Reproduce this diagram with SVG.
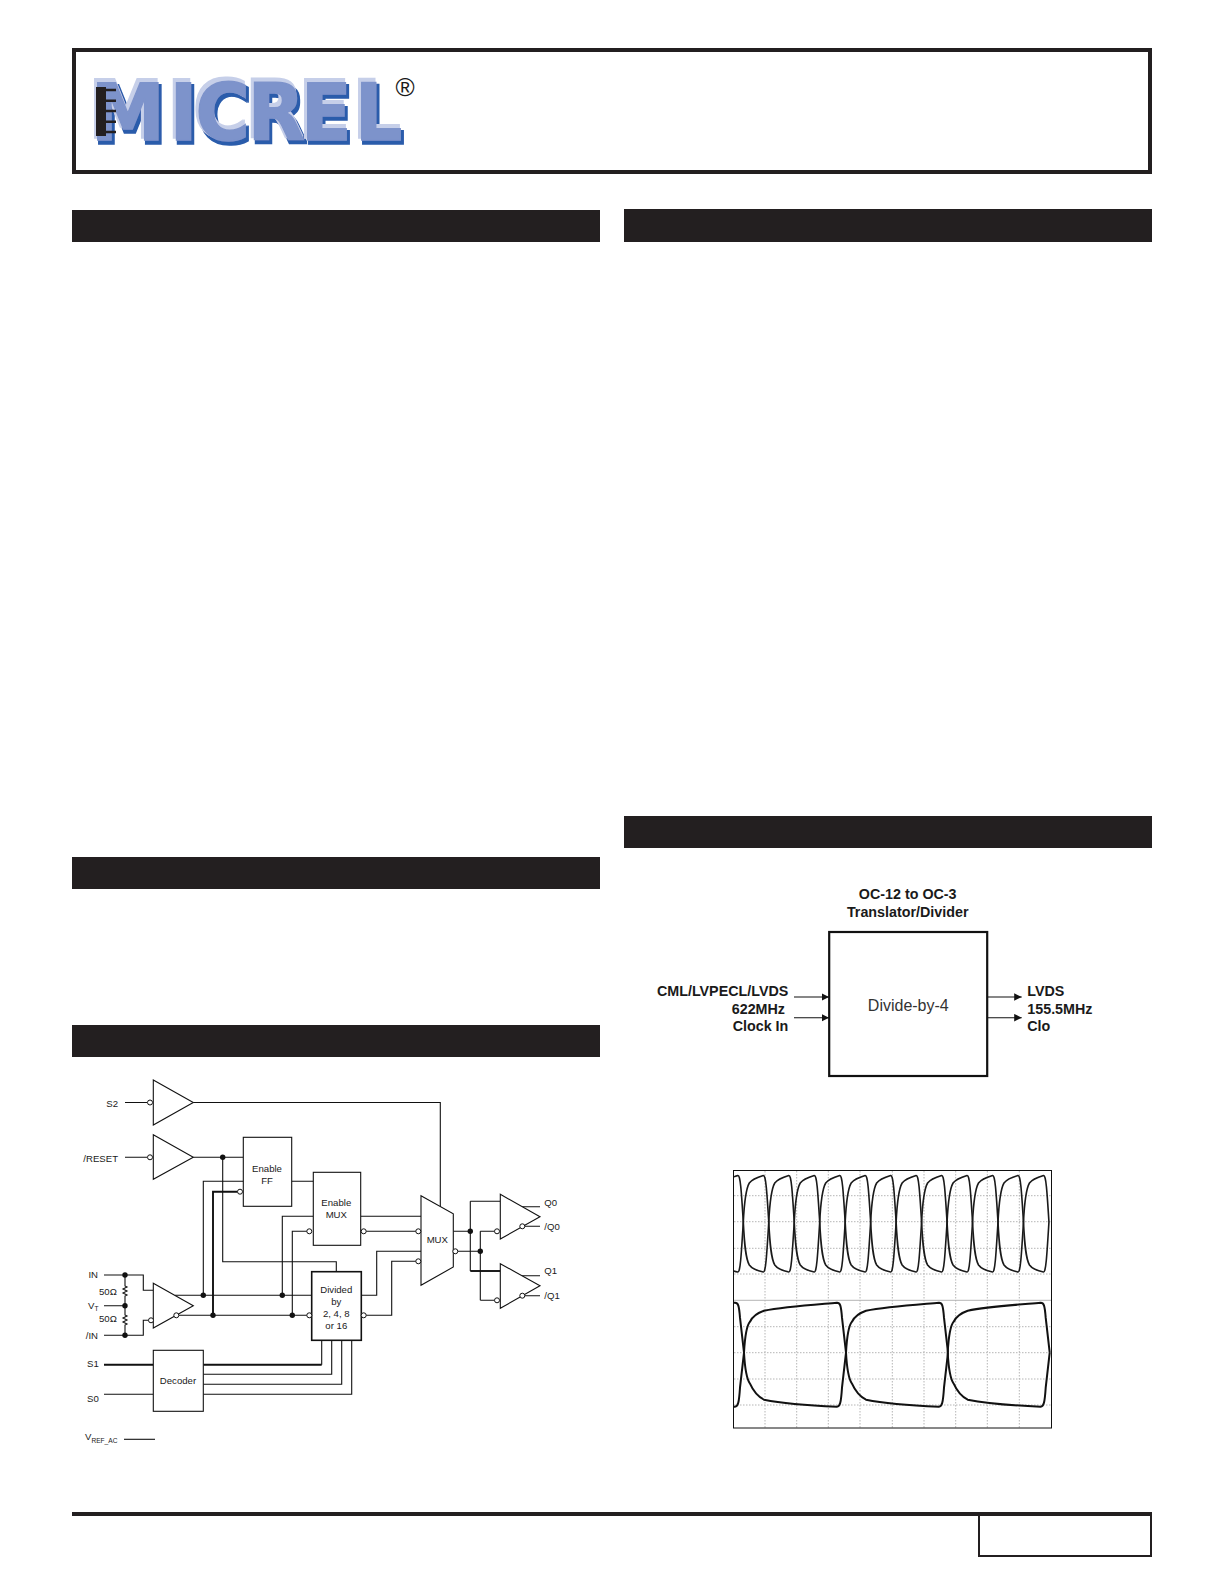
<svg xmlns="http://www.w3.org/2000/svg" xmlns:xlink="http://www.w3.org/1999/xlink" width="1224" height="1584" viewBox="0 0 1224 1584">
<style>
text{font-family:"Liberation Sans",Arial,sans-serif;fill:#1a1a1a}
.d{font-size:9.6px}
.m{text-anchor:middle}
.e{text-anchor:end}
.sub{font-size:6.6px}
.b{font-size:14.3px;font-weight:bold}
.bar{fill:#231f20;stroke:none}
.box{fill:#fff;stroke:#111;stroke-width:1.1}
.w{fill:none;stroke:#111;stroke-width:1.1}
.t{fill:none;stroke:#111;stroke-width:1.9}
.bub{fill:#fff;stroke:#111;stroke-width:1}
.dot{fill:#111;stroke:none}
.ar{fill:none;stroke:#111;stroke-width:1.1;marker-end:url(#ah)}
.g{stroke:#b5b5b5;stroke-width:1;stroke-dasharray:1.5 1.5;fill:none}
.tr{fill:none;stroke:#1a1a1a;stroke-width:1.6}
.trb{fill:none;stroke:#111;stroke-width:2}
</style>
<defs>
<marker id="ah" markerUnits="userSpaceOnUse" markerWidth="8" markerHeight="8" refX="7.5" refY="3.75" orient="auto"><path d="M0,0L7.5,3.75L0,7.5Z" fill="#111"/></marker>
<clipPath id="sc"><rect x="734" y="1171" width="317" height="257"/></clipPath>
<filter id="bevel" x="-5%" y="-10%" width="110%" height="120%">
<feMorphology in="SourceAlpha" operator="dilate" radius="0.6" result="a"/>
<feOffset in="a" dx="2.4" dy="2.8" result="o1"/><feFlood flood-color="#2a5bab"/><feComposite in2="o1" operator="in" result="dark"/>
<feOffset in="a" dx="-2.2" dy="-2.6" result="o2"/><feFlood flood-color="#c6cfe9"/><feComposite in2="o2" operator="in" result="light"/>
<feMerge><feMergeNode in="dark"/><feMergeNode in="light"/><feMergeNode in="SourceGraphic"/></feMerge>
</filter>
<path id="eye" d="M0,0C1,-20 2.5,-33 6,-39C9,-43 15,-45 20,-46.5C22.5,-47 23.5,-32 25.47,0M0,0C1,20 2,36 6,43C9,47 15,49 20,50C22.5,50.5 23.5,32 25.47,0"/>
<path id="eye2" d="M0,0C1,-18 2.5,-27 6,-31C9,-37 14,-40 20,-42C40,-46 70,-48 93,-50C96,-50 97,-48 98,-35L102,0M0,0C1,18 2.5,26 6,31C10,40 14,44 20,47C40,51 70,53 93,54C96,54 97,50 98,35L102,0"/>
</defs>
<rect width="1224" height="1584" fill="#fff"/>

<g id="page-frame">
<rect x="74" y="50" width="1076" height="122" fill="none" stroke="#231f20" stroke-width="4"/>
<rect class="bar" x="72" y="210" width="528" height="32"/>
<rect class="bar" x="624" y="209" width="528" height="33"/>
<rect class="bar" x="624" y="816" width="528" height="32"/>
<rect class="bar" x="72" y="857" width="528" height="32"/>
<rect class="bar" x="72" y="1025" width="528" height="32"/>
<rect class="bar" x="72" y="1512" width="1080" height="4"/>
<rect x="979" y="1514" width="172" height="42" fill="none" stroke="#231f20" stroke-width="2"/>
</g>

<g id="logo">
<text transform="translate(90,139.5) scale(0.95,1)" x="1 84 111 166 222 279" style="font-family:'DejaVu Sans',sans-serif;font-weight:bold;font-size:78px;fill:#7d93cb;stroke:#7d93cb;stroke-width:1.6" filter="url(#bevel)">MICREL</text>
<path d="M96,87H106V136H96Z" fill="#231f20"/>
<path d="M100,90H116M100,100.7H116M100,111H116M100,121.7H116M100,132H116" stroke="#231f20" stroke-width="2.4" fill="none"/>
<text x="405" y="96" class="m" style="font-size:26px">®</text>
</g>

<g id="connectors">
<path class="w" d="M125,1102.5H147M193.3,1102.5H440.3V1206.7"/>
<path class="w" d="M125,1157.3H147M193.3,1157.3H243.3M222.7,1157.3V1261.7H336.3V1271.7"/>
<path class="w" d="M243.3,1181.3H203.3V1295.3M291.7,1181.3H313.3"/>
<path class="t" d="M237.5,1191.7H213V1315.3"/>
<path class="w" d="M313.3,1216.3H282.3V1295.3M307,1231.3H292.3V1315.3"/>
<path class="w" d="M360.7,1216.3H421M366,1231.3H416"/>
<path class="w" d="M361.3,1295.3H376.7V1251.3H421M366,1315.3H391.7V1261.3H416"/>
<path class="w" d="M453.3,1231.3H470.3M470.3,1201.3H500.3M470.3,1201.3V1271M458,1251.3H480.3M480.3,1231.3V1300.3M480.3,1231.3H494.5M480.3,1300.3H494.5"/>
<path class="t" d="M470.3,1271H500.3"/>
<path class="w" d="M522,1206.7H540M525,1226.3H540M522,1275.7H540M525,1295.7H540"/>
<path class="w" d="M104,1275H143.3V1290.3H153.3M104,1335.3H143.3V1320.3H148.5M104,1305.7H125"/>
<path class="w" d="M125,1275V1286l2,1l-4,2l4,2l-4,2l4,2l-2,1V1315l2,1l-4,2l4,2l-4,2l4,2l-2,1V1335.3"/>
<path class="w" d="M175,1295.3H311.7M179,1315.3H307"/>
<path class="t" d="M104,1364.7H153.3M203.3,1364.7H321.7"/>
<path class="w" d="M321.7,1364.7V1340.3M203.3,1374.3H331.7V1340.3M203.3,1384.3H341.7V1340.3M104,1394.3H153.3M203.3,1394.3H351.7V1340.3"/>
<path class="w" d="M124,1439.3H155"/>
<g>
<circle class="dot" cx="222.7" cy="1157.3" r="2.7"/>
<circle class="dot" cx="203.3" cy="1295.3" r="2.7"/>
<circle class="dot" cx="213" cy="1315.3" r="2.7"/>
<circle class="dot" cx="282.3" cy="1295.3" r="2.7"/>
<circle class="dot" cx="292.3" cy="1315.3" r="2.7"/>
<circle class="dot" cx="470.3" cy="1231.3" r="2.7"/>
<circle class="dot" cx="480.3" cy="1251.3" r="2.7"/>
<circle class="dot" cx="125" cy="1275" r="2.7"/>
<circle class="dot" cx="125" cy="1305.7" r="2.7"/>
<circle class="dot" cx="125" cy="1335.3" r="2.7"/>
</g>
<path class="ar" d="M794,997H829"/>
<path class="ar" d="M794,1017.7H829"/>
<path class="ar" d="M987.3,997H1021.7"/>
<path class="ar" d="M987.3,1017.7H1021.7"/>
</g>

<g id="buffer-s2">
<path class="box" d="M153.3,1080L193.3,1102.5L153.3,1125Z"/>
<circle class="bub" cx="150" cy="1102.5" r="2.5"/>
</g>
<g id="buffer-reset">
<path class="box" d="M153.3,1134.7L193.3,1157.3L153.3,1179.3Z"/>
<circle class="bub" cx="150" cy="1157.3" r="2.5"/>
</g>
<g id="enable-ff">
<rect class="box" x="243.3" y="1137.3" width="48.4" height="69"/>
<circle class="bub" cx="240" cy="1191.7" r="2.5"/>
<text class="d m" x="267" y="1172">Enable</text>
<text class="d m" x="267" y="1184">FF</text>
</g>
<g id="enable-mux">
<rect class="box" x="313.3" y="1172.3" width="47.4" height="73"/>
<circle class="bub" cx="309.3" cy="1231.3" r="2.5"/>
<circle class="bub" cx="363.7" cy="1231.3" r="2.5"/>
<text class="d m" x="336.3" y="1206">Enable</text>
<text class="d m" x="336.3" y="1217.6">MUX</text>
</g>
<g id="mux">
<path class="box" d="M421,1195.7L453.3,1213.7V1267L421,1285.3Z"/>
<circle class="bub" cx="418.3" cy="1231.3" r="2.5"/>
<circle class="bub" cx="418.3" cy="1261.3" r="2.5"/>
<circle class="bub" cx="455.3" cy="1251.3" r="2.5"/>
<text class="d m" x="437.3" y="1242.6">MUX</text>
</g>
<g id="buffer-q0">
<path class="box" d="M500.3,1194.3L540,1216.7L500.3,1239Z"/>
<circle class="bub" cx="497" cy="1231.3" r="2.5"/>
<circle class="bub" cx="522.3" cy="1226.3" r="2.5"/>
</g>
<g id="buffer-q1">
<path class="box" d="M500.3,1263.7L540,1285.7L500.3,1308.3Z"/>
<circle class="bub" cx="497" cy="1300.3" r="2.5"/>
<circle class="bub" cx="522.3" cy="1295.7" r="2.5"/>
</g>
<g id="input-buffer">
<path class="box" d="M153.3,1283.3L193.3,1305.7L153.3,1328Z"/>
<circle class="bub" cx="151" cy="1320.3" r="2.5"/>
<circle class="bub" cx="176.3" cy="1315.3" r="2.5"/>
</g>
<g id="divider">
<rect x="311.7" y="1271.7" width="49.6" height="68.6" fill="#fff" stroke="#111" stroke-width="1.6"/>
<circle class="bub" cx="309.3" cy="1315.3" r="2.5"/>
<circle class="bub" cx="363.7" cy="1315.3" r="2.5"/>
<text class="d m" x="336.3" y="1293">Divided</text>
<text class="d m" x="336.3" y="1305">by</text>
<text class="d m" x="336.3" y="1317">2, 4, 8</text>
<text class="d m" x="336.3" y="1329">or 16</text>
</g>
<g id="decoder">
<rect class="box" x="153.3" y="1350.3" width="50" height="61"/>
<text class="d m" x="178" y="1383.6">Decoder</text>
</g>

<g id="pin-labels">
<text class="d e" x="118" y="1106.6">S2</text>
<text class="d e" x="118" y="1162">/RESET</text>
<text class="d e" x="98" y="1278">IN</text>
<text class="d" x="99" y="1295">50Ω</text>
<text class="d" x="88" y="1308.5">V<tspan class="sub" dy="2.5">T</tspan></text>
<text class="d" x="99" y="1322">50Ω</text>
<text class="d e" x="98" y="1338.6">/IN</text>
<text class="d" x="87" y="1367.3">S1</text>
<text class="d" x="87" y="1402">S0</text>
<text class="d" x="85" y="1440.3">V<tspan class="sub" dy="2.5">REF_AC</tspan></text>
<text class="d" x="544.3" y="1205.6">Q0</text>
<text class="d" x="544.3" y="1230.3">/Q0</text>
<text class="d" x="544.3" y="1274.3">Q1</text>
<text class="d" x="544.3" y="1299.3">/Q1</text>
</g>

<g id="divide-by-4">
<rect x="829.2" y="932" width="158" height="144" fill="#fff" stroke="#111" stroke-width="2.2"/>
<text class="m" x="908.3" y="1011" style="font-size:16px;fill:#333">Divide-by-4</text>
</g>
<g id="app-labels">
<text class="b m" x="907.7" y="899.4">OC-12 to OC-3</text>
<text class="b m" x="907.7" y="917.4">Translator/Divider</text>
<text class="b e" x="788.3" y="996">CML/LVPECL/LVDS</text>
<text class="b e" x="785" y="1014.3">622MHz</text>
<text class="b e" x="788.3" y="1031">Clock In</text>
<text class="b" x="1027.3" y="996">LVDS</text>
<text class="b" x="1027.3" y="1014.3">155.5MHz</text>
<text class="b" x="1027.3" y="1031">Clo</text>
</g>

<g id="oscilloscope">
<rect x="733.5" y="1170.5" width="318" height="257.5" fill="#fff"/>
<path class="g" d="M765,1171V1428M796.7,1171V1428M828.3,1171V1428M860,1171V1428M892.3,1171V1428M924,1171V1428M955.7,1171V1428M987.3,1171V1428M1019.3,1171V1428"/>
<path class="g" d="M734,1195.7H1051M734,1221.7H1051M734,1248.3H1051M734,1274H1051M734,1326.7H1051M734,1352.7H1051M734,1379H1051M734,1405H1051"/>
<path d="M734,1300.3H1051" stroke="#b5b5b5" stroke-width="1" fill="none"/>
<g clip-path="url(#sc)">
<g class="tr">
<use xlink:href="#eye" href="#eye" x="717.83" y="1222"/>
<use xlink:href="#eye" href="#eye" x="743.3" y="1222"/>
<use xlink:href="#eye" href="#eye" x="768.77" y="1222"/>
<use xlink:href="#eye" href="#eye" x="794.24" y="1222"/>
<use xlink:href="#eye" href="#eye" x="819.71" y="1222"/>
<use xlink:href="#eye" href="#eye" x="845.18" y="1222"/>
<use xlink:href="#eye" href="#eye" x="870.65" y="1222"/>
<use xlink:href="#eye" href="#eye" x="896.12" y="1222"/>
<use xlink:href="#eye" href="#eye" x="921.59" y="1222"/>
<use xlink:href="#eye" href="#eye" x="947.06" y="1222"/>
<use xlink:href="#eye" href="#eye" x="972.53" y="1222"/>
<use xlink:href="#eye" href="#eye" x="998" y="1222"/>
<use xlink:href="#eye" href="#eye" x="1023.47" y="1222"/>
</g>
<g class="trb">
<use xlink:href="#eye2" href="#eye2" x="642" y="1352.7"/>
<use xlink:href="#eye2" href="#eye2" x="744" y="1352.7"/>
<use xlink:href="#eye2" href="#eye2" x="846" y="1352.7"/>
<use xlink:href="#eye2" href="#eye2" x="947.7" y="1352.7"/>
</g>
</g>
<rect x="733.5" y="1170.5" width="318" height="257.5" fill="none" stroke="#111" stroke-width="1"/>
</g>
</svg>
